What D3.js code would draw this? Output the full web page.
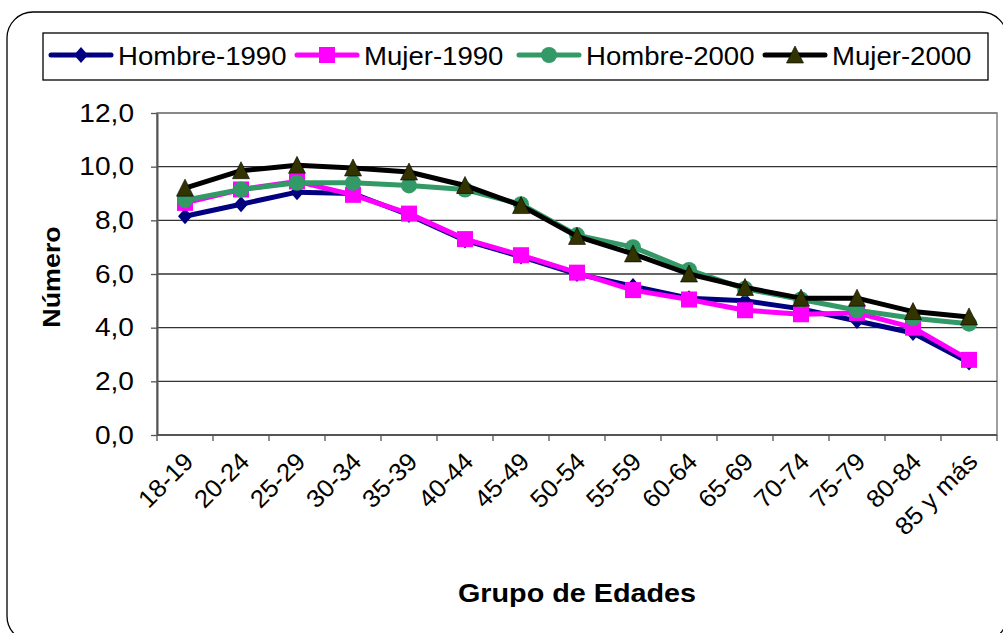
<!DOCTYPE html>
<html lang="es">
<head>
<meta charset="UTF-8">
<title>Número por grupo de edades</title>
<script src="https://cdn.jsdelivr.net/npm/d3@7"></script>
<style>
  body { margin: 0; background: #fff; }
  svg { display: block; font-family: "Liberation Sans", Arial, sans-serif; }
</style>
</head>
<body>
<svg width="1003" height="633"></svg>
<script>
// datos
const ages = ["18-19","20-24","25-29","30-34","35-39","40-44","45-49","50-54","55-59","60-64","65-69","70-74","75-79","80-84","85 y más"];
const hombre1990 = [8.15, 8.6, 9.05, 9.0, 8.2, 7.25, 6.65, 6.0, 5.55, 5.1, 5.0, 4.7, 4.25, 3.8, 2.7];
const mujer1990  = [8.65, 9.15, 9.45, 8.95, 8.25, 7.3, 6.7, 6.05, 5.4, 5.05, 4.65, 4.5, 4.55, 4.0, 2.8];
const hombre2000 = [8.75, 9.15, 9.4, 9.4, 9.3, 9.15, 8.6, 7.45, 7.0, 6.15, 5.45, 5.05, 4.65, 4.35, 4.15];
const mujer2000  = [9.2, 9.85, 10.05, 9.95, 9.8, 9.3, 8.55, 7.4, 6.75, 6.0, 5.5, 5.1, 5.1, 4.6, 4.4];
const yTicks = [0, 2, 4, 6, 8, 10, 12];

const series = [
  {name: "Hombre-1990", values: hombre1990, color: "#000080", marker: "diamond"},
  {name: "Mujer-1990",  values: mujer1990,  color: "#ff00ff", marker: "square"},
  {name: "Hombre-2000", values: hombre2000, color: "#339966", marker: "circle"},
  {name: "Mujer-2000",  values: mujer2000,  color: "#000000", marker: "triangle"}
];
const markerFill = {diamond: "#000080", square: "#ff00ff", circle: "#339966", triangle: "#333300"};

const svg = d3.select("svg");
const pLeft = 157, pRight = 997, pTop = 113, pBottom = 435;

// text in the picture is a bit wider than plain Arial
function widen(sel, k) {
  sel.each(function() {
    const L = this.getComputedTextLength();
    d3.select(this).attr("textLength", L * k).attr("lengthAdjust", "spacingAndGlyphs");
  });
}

// outer frame
svg.append("rect")
  .attr("x", 7).attr("y", 12).attr("width", 1000).attr("height", 630)
  .attr("rx", 26).attr("fill", "#fff").attr("stroke", "#000").attr("stroke-width", 1.3);

const x = d3.scalePoint().domain(ages).range([pLeft, pRight]).padding(0.5);
const y = d3.scaleLinear().domain([0, 12]).range([pBottom, pTop]);
const fmt = d => d3.format(".1f")(d).replace(".", ",");

// plot area border + grid
svg.append("rect")
  .attr("x", pLeft).attr("y", pTop).attr("width", pRight - pLeft).attr("height", pBottom - pTop)
  .attr("fill", "none").attr("stroke", "#808080").attr("stroke-width", 1.5);

svg.append("g")
  .selectAll("line")
  .data(yTicks.filter(d => d > 0))
  .join("line")
  .attr("x1", pLeft).attr("x2", pRight)
  .attr("y1", d => y(d)).attr("y2", d => y(d))
  .attr("stroke", d => d === 12 ? "#808080" : "#333")
  .attr("stroke-width", 1.3);

// y axis
const yAxis = svg.append("g")
  .attr("transform", `translate(${pLeft},0)`)
  .call(d3.axisLeft(y).tickValues(yTicks).tickFormat(fmt).tickSize(6).tickPadding(17).tickSizeOuter(0));
yAxis.select(".domain").attr("stroke", "#555").attr("stroke-width", 2);
yAxis.selectAll(".tick line").attr("stroke", "#555").attr("stroke-width", 1.3);
yAxis.selectAll(".tick text").attr("font-size", 26).attr("fill", "#000")
  .attr("font-family", "Liberation Sans, Arial, sans-serif").call(widen, 1.08);

// x axis
const band = (pRight - pLeft) / ages.length;
const xAxis = svg.append("g");
xAxis.append("line")
  .attr("x1", pLeft).attr("x2", pRight).attr("y1", pBottom).attr("y2", pBottom)
  .attr("stroke", "#555").attr("stroke-width", 2);
xAxis.selectAll("line.tk")
  .data(d3.range(ages.length + 1))
  .join("line").attr("class", "tk")
  .attr("x1", i => pLeft + i * band).attr("x2", i => pLeft + i * band)
  .attr("y1", pBottom).attr("y2", pBottom + 6)
  .attr("stroke", "#555").attr("stroke-width", 1.3);
xAxis.selectAll("text")
  .data(ages)
  .join("text")
  .attr("text-anchor", "end")
  .attr("font-size", 25)
  .attr("transform", d => `translate(${x(d) + 10},${pBottom + 28}) rotate(-45)`)
  .text(d => d)
  .call(widen, 1.03);

// lines + markers
const line = d3.line().x((d, i) => x(ages[i])).y(d => y(d));

function drawMarker(g, type) {
  if (type === "diamond") {
    g.append("path").attr("d", "M0,-8L7,0L0,8L-7,0Z").attr("fill", markerFill.diamond);
  } else if (type === "square") {
    g.append("rect").attr("x", -8).attr("y", -8).attr("width", 16).attr("height", 16).attr("fill", markerFill.square);
  } else if (type === "circle") {
    g.append("circle").attr("r", 8).attr("fill", markerFill.circle);
  } else {
    g.append("path").attr("d", "M0,-9L8.5,8L-8.5,8Z").attr("fill", markerFill.triangle)
      .attr("stroke", "#000").attr("stroke-width", 0.6);
  }
}

series.forEach(s => {
  const g = svg.append("g");
  g.append("path")
    .attr("d", line(s.values))
    .attr("fill", "none")
    .attr("stroke", s.color)
    .attr("stroke-width", 5)
    .attr("stroke-linejoin", "round")
    .attr("stroke-linecap", "round");
  g.selectAll("g.m")
    .data(s.values)
    .join("g").attr("class", "m")
    .attr("transform", (d, i) => `translate(${x(ages[i])},${y(d)})`)
    .each(function() { drawMarker(d3.select(this), s.marker); });
});

// legend
const legendX = [51, 297, 519, 765];
svg.append("rect")
  .attr("x", 43).attr("y", 33).attr("width", 945).attr("height", 47)
  .attr("fill", "#fff").attr("stroke", "#000").attr("stroke-width", 1.3);
const lg = svg.append("g")
  .selectAll("g")
  .data(series)
  .join("g")
  .attr("transform", (d, i) => `translate(${legendX[i]},55)`);
lg.append("line")
  .attr("x1", 0).attr("x2", 60).attr("y1", 0).attr("y2", 0)
  .attr("stroke", d => d.color).attr("stroke-width", 5).attr("stroke-linecap", "round");
lg.append("g")
  .attr("transform", "translate(30,0)")
  .each(function(d) { drawMarker(d3.select(this), d.marker); });
lg.append("text")
  .attr("x", 67).attr("y", 10)
  .attr("font-size", 26)
  .text(d => d.name)
  .call(widen, 1.06);

// axis titles
svg.append("text")
  .attr("transform", `translate(60,${(pTop + pBottom) / 2 + 3}) rotate(-90)`)
  .attr("text-anchor", "middle")
  .attr("font-size", 24).attr("font-weight", "bold")
  .text("Número")
  .call(widen, 1.12);

svg.append("text")
  .attr("x", (pLeft + pRight) / 2).attr("y", 602)
  .attr("text-anchor", "middle")
  .attr("font-size", 25).attr("font-weight", "bold")
  .text("Grupo de Edades")
  .call(widen, 1.15);
</script>
</body>
</html>
